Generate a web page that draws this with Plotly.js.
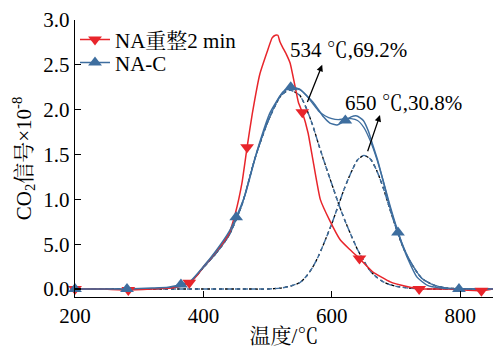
<!DOCTYPE html>
<html>
<head>
<meta charset="utf-8">
<script src="https://cdn.plot.ly/plotly-3.0.1.min.js"></script>
<style>html,body{margin:0;padding:0;background:#fff;}#chart{width:493px;height:348px;}</style>
</head>
<body>
<div id="chart"></div>
<script>
// NA重整2 min (red) measured curve
const T_red = [200, 240, 283, 320, 350, 365, 378, 390, 400, 410, 420, 432, 440, 450, 460, 468, 476, 488, 499, 507, 512, 516, 519, 523, 529, 535, 543, 548, 554, 563, 571, 582, 597, 613, 628, 643, 664, 691, 715, 736, 780, 833, 851];
const V_red = [0, 0, -0.01, 0, 0.01, 0.03, 0.07, 0.15, 0.25, 0.33, 0.42, 0.53, 0.62, 0.85, 1.18, 1.58, 1.95, 2.40, 2.64, 2.80, 2.83, 2.83, 2.76, 2.70, 2.62, 2.52, 2.25, 2.08, 1.97, 1.74, 1.42, 1.00, 0.76, 0.55, 0.44, 0.34, 0.19, 0.08, 0.03, 0.0, 0.0, -0.02, 0];
const T_red_mk = [200, 283, 378, 468, 554, 643, 736, 833];
const V_red_mk = [0, -0.01, 0.07, 1.58, 1.97, 0.34, 0.0, -0.02];

// NA-C (blue) measured curve
const T_blue = [200, 240, 281, 320, 345, 365, 380, 400, 420, 440, 451, 465, 484, 504, 524, 536, 551, 571, 587, 597, 608, 621, 630, 639, 649, 657, 664, 672, 680, 690, 703, 717, 733, 749, 770, 798, 851];
const V_blue = [0, 0, 0, 0.01, 0.02, 0.05, 0.09, 0.25, 0.43, 0.64, 0.80, 1.05, 1.55, 1.97, 2.20, 2.25, 2.22, 2.08, 1.92, 1.85, 1.83, 1.88, 1.92, 1.93, 1.88, 1.76, 1.60, 1.42, 1.20, 0.92, 0.63, 0.36, 0.13, 0.04, 0.01, 0, 0];
const T_blue_mk = [200, 281, 365, 451, 536, 621, 703, 798];
const V_blue_mk = [0, 0, 0.05, 0.80, 2.25, 1.88, 0.63, 0];

// Deconvoluted peaks and their sum
const T_fit = [200, 300, 340, 360, 380, 400, 420, 440, 460, 480, 500, 520, 534, 550, 560, 570, 580, 590, 600, 610, 620, 630, 640, 650, 660, 670, 680, 690, 700, 710, 720, 740, 760, 780, 851];
const P1 = [0, 0, 0.01, 0.03, 0.08, 0.24, 0.40, 0.60, 0.94, 1.45, 1.86, 2.15, 2.22, 2.16, 2.02, 1.83, 1.60, 1.38, 1.17, 0.96, 0.77, 0.60, 0.44, 0.31, 0.20, 0.13, 0.08, 0.05, 0.03, 0.02, 0.01, 0, 0, 0, 0];
const P2 = [0, 0, 0, 0, 0, 0, 0, 0, 0, 0, 0, 0.01, 0.03, 0.07, 0.14, 0.24, 0.38, 0.55, 0.73, 0.93, 1.13, 1.30, 1.44, 1.49, 1.45, 1.32, 1.13, 0.90, 0.68, 0.48, 0.33, 0.12, 0.04, 0.01, 0];
const FIT = [0, 0, 0.01, 0.03, 0.08, 0.24, 0.40, 0.60, 0.94, 1.45, 1.86, 2.16, 2.25, 2.23, 2.16, 2.07, 1.98, 1.93, 1.90, 1.89, 1.90, 1.90, 1.88, 1.80, 1.65, 1.45, 1.21, 0.95, 0.71, 0.50, 0.34, 0.12, 0.04, 0.01, 0];

const seriesNames = ['NA重整2 min', 'NA-C'];
const yTickVals = [0, 0.5, 1.0, 1.5, 2.0, 2.5, 3.0];
const yTickText = ['0.0', '5.0', '1.0', '1.5', '2.0', '2.5', '3.0'];
const xTickVals = [200, 400, 600, 800];
const peakLabels = ['534 ℃,69.2%', '650 ℃,30.8%'];

const RED = '#e8252b', BLUE = '#3e6e9f', BLACK = '#000000';
const FONT = 'Liberation Serif, Noto Serif CJK SC, Noto Sans CJK SC, serif';

const traces = [
  {x: T_fit, y: P2, mode: 'lines', line: {color: BLACK, width: 1.3, dash: '3px,3px', shape: 'spline', smoothing: 0.6}, showlegend: false, hoverinfo: 'skip'},
  {x: T_fit, y: P2, mode: 'lines', line: {color: BLUE, width: 1.4, dash: '5px,3px', shape: 'spline', smoothing: 0.6}, showlegend: false, hoverinfo: 'skip'},
  {x: T_fit, y: P1, mode: 'lines', line: {color: BLACK, width: 1.3, dash: '3px,3px', shape: 'spline', smoothing: 0.6}, showlegend: false, hoverinfo: 'skip'},
  {x: T_fit, y: P1, mode: 'lines', line: {color: BLUE, width: 1.4, dash: '5px,3px', shape: 'spline', smoothing: 0.6}, showlegend: false, hoverinfo: 'skip'},
  {x: T_fit, y: FIT, mode: 'lines', line: {color: BLUE, width: 1.3, shape: 'spline', smoothing: 0.6}, showlegend: false},
  {x: T_red, y: V_red, mode: 'lines', line: {color: RED, width: 1.5, shape: 'spline', smoothing: 0.4}, showlegend: false},
  {x: T_blue, y: V_blue, mode: 'lines', line: {color: BLUE, width: 1.5, shape: 'spline', smoothing: 0.5}, showlegend: false},
  {x: T_red_mk, y: V_red_mk, mode: 'markers', marker: {symbol: 'triangle-down', size: 12, color: RED}, showlegend: false, cliponaxis: false},
  {x: T_blue_mk, y: V_blue_mk, mode: 'markers', marker: {symbol: 'triangle-up', size: 12, color: BLUE}, showlegend: false, cliponaxis: false},
  {x: [null], y: [null], name: seriesNames[0], mode: 'lines+markers', line: {color: RED, width: 1.5}, marker: {symbol: 'triangle-down', size: 12, color: RED}, legend: 'legend'},
  {x: [null], y: [null], name: seriesNames[1], mode: 'lines+markers', line: {color: BLUE, width: 1.5}, marker: {symbol: 'triangle-up', size: 12, color: BLUE}, legend: 'legend2'}
];

const legendBase = {bgcolor: 'rgba(0,0,0,0)', borderwidth: 0, font: {family: FONT, size: 21, color: '#000'}, xanchor: 'left', yanchor: 'middle', itemwidth: 30};

const layout = {
  width: 493, height: 348,
  margin: {l: 75, r: 0, t: 20, b: 51},
  paper_bgcolor: '#fff', plot_bgcolor: '#fff',
  font: {family: FONT, size: 21, color: '#000'},
  showlegend: true,
  legend: Object.assign({}, legendBase, {x: 0, y: 0.928}),
  legend2: Object.assign({}, legendBase, {x: 0, y: 0.845}),
  xaxis: {
    range: [200, 851], tickvals: xTickVals, ticks: 'inside', ticklen: 6, tickwidth: 1.2, tickcolor: '#000',
    showline: true, linecolor: '#000', linewidth: 1.2, showgrid: false, zeroline: false,
    tickfont: {family: FONT, size: 21},
    title: {text: '温度/℃', font: {family: FONT, size: 21}, standoff: 2}
  },
  yaxis: {
    range: [-0.089, 3.0], tickvals: yTickVals, ticktext: yTickText, ticks: 'inside', ticklen: 6, tickwidth: 1.2, tickcolor: '#000',
    showline: true, linecolor: '#000', linewidth: 1.2, showgrid: false, zeroline: false,
    tickfont: {family: FONT, size: 21},
    title: {text: 'CO<sub>2</sub>信号×10<sup>-8</sup>', font: {family: FONT, size: 21}, standoff: 6}
  },
  annotations: [
    {x: 532, y: 2.66, xref: 'x', yref: 'y', text: peakLabels[0], showarrow: false, xanchor: 'left', yanchor: 'middle', font: {family: FONT, size: 21}},
    {x: 618, y: 2.08, xref: 'x', yref: 'y', text: peakLabels[1], showarrow: false, xanchor: 'left', yanchor: 'middle', font: {family: FONT, size: 21}},
    {x: 585, y: 2.50, ax: 561, ay: 2.07, xref: 'x', yref: 'y', axref: 'x', ayref: 'y', text: '', showarrow: true, arrowhead: 2, arrowsize: 1, arrowwidth: 1.3, arrowcolor: '#000', standoff: 0, startstandoff: 0},
    {x: 675, y: 1.94, ax: 655, ay: 1.52, xref: 'x', yref: 'y', axref: 'x', ayref: 'y', text: '', showarrow: true, arrowhead: 2, arrowsize: 1, arrowwidth: 1.3, arrowcolor: '#000', standoff: 0, startstandoff: 0}
  ]
};

Plotly.newPlot('chart', traces, layout, {displayModeBar: false, staticPlot: true});
</script>
</body>
</html>
